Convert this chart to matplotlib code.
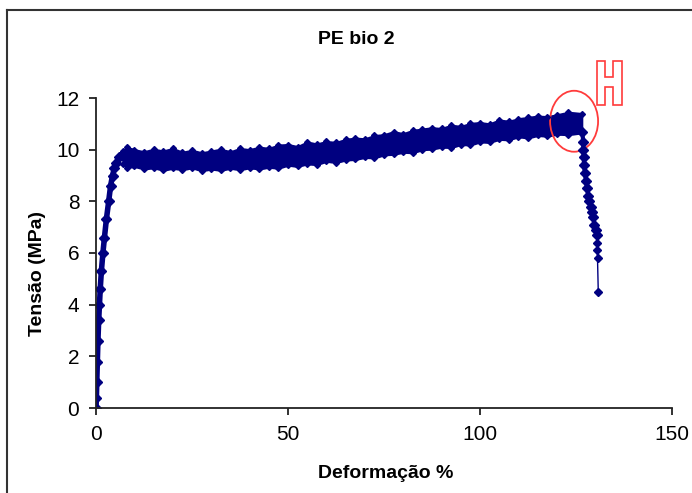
import matplotlib
matplotlib.use('Agg')
import matplotlib.pyplot as plt
from matplotlib.patches import Ellipse, Polygon
from matplotlib.lines import Line2D

plt.rcParams['font.family'] = ['Liberation Sans', 'DejaVu Sans']

# elastic rise (strain %, stress MPa)
rise_x = [0.0, 0.1, 0.2, 0.35, 0.5, 0.7, 0.9, 1.1, 1.4, 1.8, 2.2, 2.7, 3.3, 3.8, 4.3, 4.8, 5.3, 6.0, 6.8, 7.5, 8.0]
rise_y = [0.0, 0.4, 1.0, 1.8, 2.6, 3.4, 4.0, 4.6, 5.3, 6.0, 6.6, 7.3, 8.0, 8.6, 9.0, 9.3, 9.5, 9.7, 9.8, 9.75, 9.65]

# plastic plateau, read as upper / lower edge of the noisy band
band_x = [7, 8, 10, 12.5, 15, 17.5, 20, 22.5, 25, 27.5, 30, 32.5, 35, 37.5, 40, 42.5, 45,
          47.5, 50, 52.5, 55, 57.5, 60, 62.5, 65, 67.5, 70, 72.5, 75, 77.5, 80, 82.5, 85,
          87.5, 90, 92.5, 95, 97.5, 100, 102.5, 105, 107.5, 110, 112.5, 115, 117.5, 120,
          123, 126.5]
band_hi = [9.95, 10.1, 10.0, 9.92, 10.02, 9.95, 10.05, 9.9, 9.98, 9.88, 9.95, 10.02, 9.92,
           10.05, 10.0, 10.1, 10.05, 10.18, 10.2, 10.12, 10.3, 10.22, 10.32, 10.28, 10.4,
           10.45, 10.42, 10.55, 10.58, 10.7, 10.62, 10.75, 10.8, 10.85, 10.82, 10.95, 10.9,
           11.02, 11.05, 11.0, 11.15, 11.1, 11.2, 11.25, 11.3, 11.28, 11.35, 11.45, 11.4]
band_lo = [9.45, 9.3, 9.35, 9.25, 9.3, 9.2, 9.28, 9.22, 9.3, 9.18, 9.25, 9.2, 9.28, 9.22,
           9.3, 9.25, 9.32, 9.28, 9.4, 9.35, 9.45, 9.42, 9.55, 9.5, 9.6, 9.62, 9.7, 9.68,
           9.8, 9.82, 9.9, 9.88, 10.0, 10.02, 10.1, 10.08, 10.2, 10.18, 10.3, 10.28, 10.4,
           10.38, 10.5, 10.45, 10.55, 10.52, 10.6, 10.58, 10.65]

# rupture
drop_x = [126.6, 126.9, 126.9, 127.0, 127.1, 127.3, 127.6, 127.9, 128.2, 128.5, 128.8, 129.1,
          129.5, 129.8, 130.1, 130.4, 130.5, 130.5, 130.6, 130.8]
drop_y = [10.7, 10.3, 10.0, 9.7, 9.4, 9.1, 8.8, 8.5, 8.2, 8.0, 7.8, 7.6,
          7.4, 7.1, 6.9, 6.7, 6.4, 6.1, 5.8, 4.5]

navy = '#000080'

fig = plt.figure(figsize=(6.92, 4.93), dpi=100)
ax = fig.add_axes([96 / 692, 1 - 408 / 493, 576 / 692, 310 / 493])

ax.fill_between(band_x, band_lo, band_hi, color=navy, lw=1.5, ec=navy)
ax.plot(band_x, band_hi, ls='none', marker='D', ms=3, color=navy)
ax.plot(band_x, band_lo, ls='none', marker='D', ms=3, color=navy)
ax.plot(rise_x, rise_y, color=navy, lw=4, marker='D', ms=5.5)
ax.plot(drop_x[:16], drop_y[:16], color=navy, lw=3, marker='D', ms=5)
ax.plot(drop_x[15:], drop_y[15:], color=navy, lw=1, marker='D', ms=4)

ax.add_patch(Ellipse((124.5, 11.1), 12.5, 2.36, fill=False, ec='#ff3b3b', lw=1.3, clip_on=False))

ax.set_xlim(0, 150)
ax.set_ylim(0, 12)
ax.set_xticks([0, 50, 100, 150])
ax.set_yticks(range(0, 13, 2))
for s in ['top', 'right']:
    ax.spines[s].set_visible(False)
for s in ['left', 'bottom']:
    ax.spines[s].set_linewidth(1.3)
    ax.spines[s].set_color('#222222')
ax.tick_params(direction='out', length=5, width=1.3, labelsize=15, pad=7, colors='#222222')
ax.tick_params(labelcolor='black')

W, H = 692.0, 493.0
fig.text(356 / W, 1 - 40 / H, 'PE bio 2', fontsize=14, fontweight='bold', ha='center', va='center')
fig.text(386 / W, 1 - 473 / H, 'Deformação %', fontsize=14, fontweight='bold', ha='center', va='center')
fig.text(38 / W, 1 - 273 / H, 'Tensão (MPa)', fontsize=14, fontweight='bold', ha='center', va='center',
         rotation=90)

# outlined "H" mark
hpts = [(597, 61), (605, 61), (605, 77), (613, 77), (613, 61), (622, 61), (622, 105),
        (613, 105), (613, 87), (605, 87), (605, 105), (597, 105)]
fig.patches.append(Polygon([(px / W, 1 - py / H) for px, py in hpts], closed=True,
                           fc='white', ec='#ff3b3b', lw=1.2, transform=fig.transFigure))

# chart frame
fig.add_artist(Line2D([7 / W, 7 / W], [0, 1 - 10 / H], color='#333333', lw=1.5))
fig.add_artist(Line2D([7 / W, 1], [1 - 10 / H, 1 - 10 / H], color='#333333', lw=1.5))

fig.savefig('out.png', dpi=100)
